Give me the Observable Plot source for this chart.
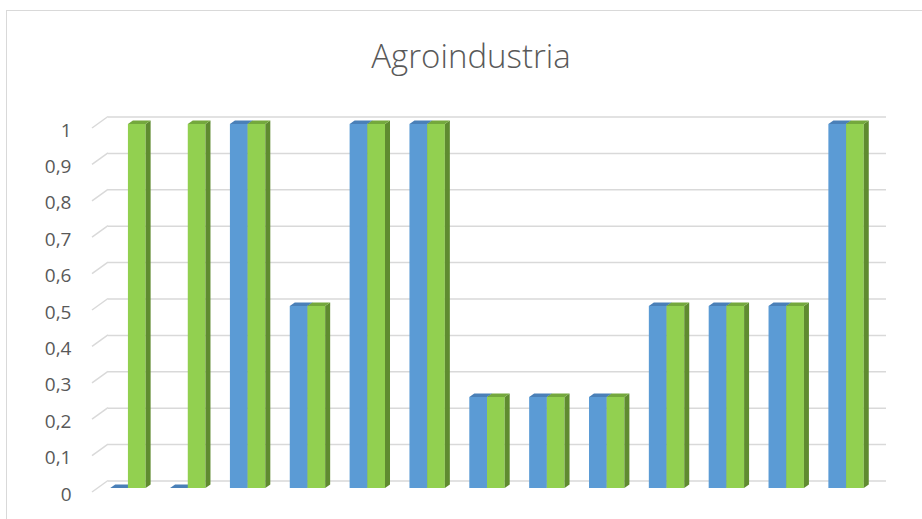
<!DOCTYPE html>
<html>
<head>
<meta charset="utf-8">
<script src="https://cdn.jsdelivr.net/npm/d3@7"></script>
<script src="https://cdn.jsdelivr.net/npm/@observablehq/plot@0.6"></script>
<style>
  html, body { margin: 0; padding: 0; background: #fff; }
  #wrap { position: relative; width: 922px; height: 519px; overflow: hidden; }
  #frame { position: absolute; left: 6px; top: 10px; width: 940px; height: 540px;
           border-left: 1.5px solid #d9d9d9; border-top: 1.5px solid #d9d9d9; }
  #title { position: absolute; left: 0; width: 942px; top: 33px; text-align: center;
           font-family: "Open Sans", Lato, sans-serif; font-weight: 300; font-size: 33px; color: #595959; }
  #chart { position: absolute; left: 0; top: 0; }
</style>
</head>
<body>
<div id="wrap">
  <div id="frame"></div>
  <div id="title">Agroindustria</div>
  <div id="chart"></div>
</div>
<script>
const categories = ["1","2","3","4","5","6","7","8","9","10","11","12","13"];
const seriesA = [0, 0, 1, 0.5, 1, 1, 0.25, 0.25, 0.25, 0.5, 0.5, 0.5, 1];
const seriesB = [1, 1, 1, 0.5, 1, 1, 0.25, 0.25, 0.25, 0.5, 0.5, 0.5, 1];
const yTicks = [0, 0.1, 0.2, 0.3, 0.4, 0.5, 0.6, 0.7, 0.8, 0.9, 1];

const dataA = categories.map((c, i) => ({cat: c, value: seriesA[i]}));
const dataB = categories.map((c, i) => ({cat: c, value: seriesB[i]}));

const barW = 17.7, depthX = 5, depthY = 3.5;
const colors = {
  A: {front: "#5b9bd5", side: "#41719c", top: "#4a80b8"},
  B: {front: "#92d050", side: "#5f8b30", top: "#74a83d"}
};

function faces(data, which) {
  return (index, scales, values, dims) => {
    const ns = "http://www.w3.org/2000/svg";
    const g = document.createElementNS(ns, "g");
    const bw = scales.x.bandwidth ? scales.x.bandwidth() : 0;
    for (const d of data) {
      const c = scales.x(d.cat) + bw / 2;
      const x0 = which === "A" ? c - barW : c;
      const x1 = x0 + barW;
      const yb = scales.y(0), yt = scales.y(d.value);
      const side = document.createElementNS(ns, "polygon");
      side.setAttribute("points", `${x1},${yt} ${x1+depthX},${yt-depthY} ${x1+depthX},${yb-depthY} ${x1},${yb}`);
      side.setAttribute("fill", colors[which].side);
      g.appendChild(side);
      const top = document.createElementNS(ns, "polygon");
      top.setAttribute("points", `${x0},${yt} ${x0+depthX},${yt-depthY} ${x1+depthX},${yt-depthY} ${x1},${yt}`);
      top.setAttribute("fill", colors[which].top);
      g.appendChild(top);
    }
    return g;
  };
}

function wallDiagonals(index, scales, values, dims) {
  const ns = "http://www.w3.org/2000/svg";
  const g = document.createElementNS(ns, "g");
  for (const t of yTicks) {
    const y = scales.y(t);
    const l = document.createElementNS(ns, "line");
    l.setAttribute("x1", dims.marginLeft - 6);
    l.setAttribute("y1", y + 4);
    l.setAttribute("x2", dims.marginLeft + 10);
    l.setAttribute("y2", y - 7.5);
    l.setAttribute("stroke", "#d9d9d9");
    l.setAttribute("stroke-width", 1.5);
    g.appendChild(l);
  }
  return g;
}

const fmt = v => String(v).replace(".", ",");

const plot = Plot.plot({
  width: 922,
  height: 519,
  marginLeft: 98,
  marginRight: 46,
  marginTop: 124,
  marginBottom: 31,
  style: {fontFamily: "'Open Sans', Lato, sans-serif", fontSize: "19px", color: "#595959", background: "transparent"},
  x: {type: "band", domain: categories, padding: 0, round: false, axis: null},
  y: {domain: [0, 1], ticks: yTicks, tickFormat: fmt},
  marks: [
    Plot.ruleY(yTicks, {stroke: "#d9d9d9", strokeWidth: 1.5, dx: 10, dy: -7.5}),
    wallDiagonals,
    Plot.axisY(yTicks, {tickSize: 0, tickPadding: 27, dy: 6, tickFormat: fmt, fill: "#595959", label: null}),
    Plot.barY(dataA, {x: "cat", y: "value", fill: colors.A.front, insetLeft: 59.85/2 - barW, insetRight: 59.85/2}),
    faces(dataA, "A"),
    Plot.barY(dataB, {x: "cat", y: "value", fill: colors.B.front, insetLeft: 59.85/2, insetRight: 59.85/2 - barW}),
    faces(dataB, "B")
  ]
});
document.getElementById("chart").appendChild(plot);
</script>
</body>
</html>
